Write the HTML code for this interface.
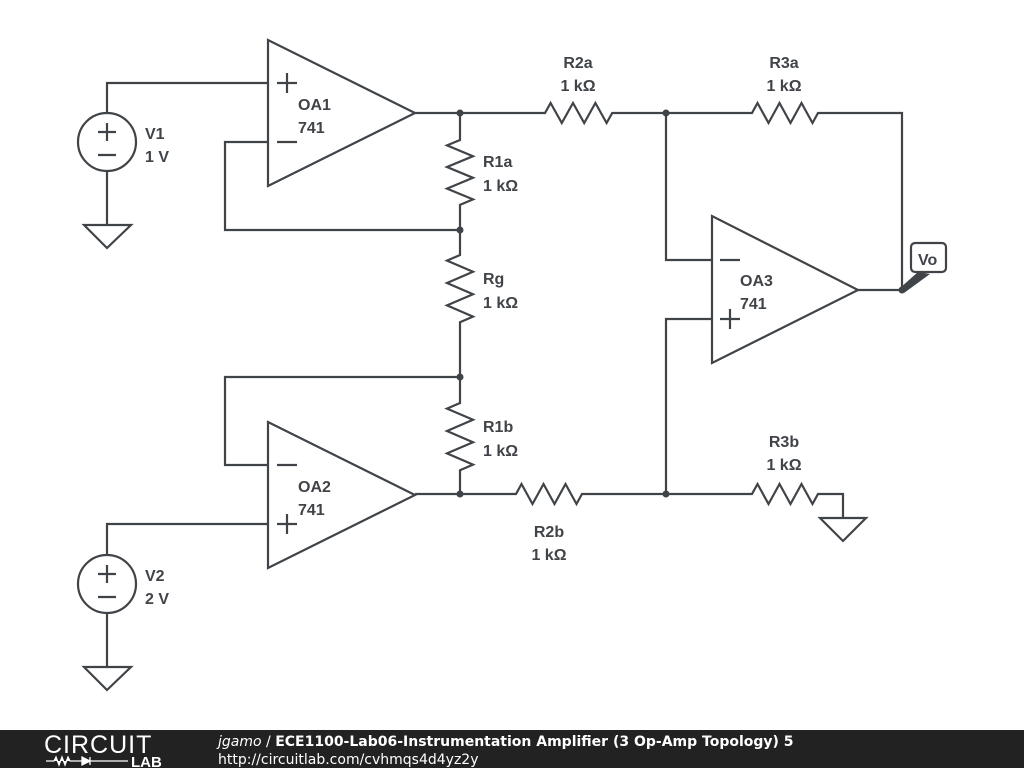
<!DOCTYPE html>
<html><head><meta charset="utf-8"><style>
body{margin:0;width:1024px;height:768px;overflow:hidden;background:#fff;font-family:"Liberation Sans","DejaVu Sans",sans-serif}
svg text{font-family:"Liberation Sans","DejaVu Sans",sans-serif;font-weight:bold;font-size:16px;fill:#404448}
svg text.ft{font-family:"DejaVu Sans",sans-serif}
</style></head><body>
<svg width="1024" height="768" viewBox="0 0 1024 768" xmlns="http://www.w3.org/2000/svg">
<g fill="none" stroke="#404448" stroke-width="2.2" stroke-linejoin="miter">
<polygon points="268,40 268,186 415,113"/>
<path d="M277,83h20M287,73v20M277,142h20"/>
<circle cx="107" cy="142" r="29"/>
<path d="M98,132h18M107,123v18M98,155h18"/>
<path d="M107,113V83H268M107,171V225"/>
<polygon points="84,225 131,225 107,248"/>
<path d="M268,142H225V230H460"/>
<path d="M415,113H545l5.6,-10 11.2,20 11.2,-20 11.2,20 11.2,-20 11.2,20 5.6,-10H752l5.5,-10 11,20 11,-20 11,20 11,-20 11,20 5.5,-10H902V290"/>
<path d="M460,113V140l-13,5.4 26,10.8 -26,10.8 26,10.8 -26,10.8 26,10.8 -13,5.4V255l-13,5.6 26,11.2 -26,11.2 26,11.2 -26,11.2 26,11.2 -13,5.6V403l-13,5.6 26,11.2 -26,11.2 26,11.2 -26,11.2 26,11.2 -13,5.6V494"/>
<polygon points="268,422 268,568 415,495"/>
<path d="M277,465h20M277,524h20M287,514v20"/>
<path d="M268,465H225V377H460"/>
<circle cx="107" cy="584" r="29"/>
<path d="M98,574h18M107,565v18M98,597h18"/>
<path d="M107,555V524H268M107,613V667"/>
<polygon points="84,667 131,667 107,690"/>
<path d="M415,494H516l5.5,-10 11,20 11,-20 11,20 11,-20 11,20 5.5,-10H752l5.5,-10 11,20 11,-20 11,20 11,-20 11,20 5.5,-10H843V518"/>
<polygon points="820,518 866,518 843,541"/>
<polygon points="712,216 712,363 858,290"/>
<path d="M720,260h20M720,319h20M730,309v20"/>
<path d="M666,113V260H712M712,319H666V494M858,290H902"/>
<rect x="911" y="243" width="35" height="29" rx="4" fill="#fff"/>
</g>
<polygon points="900,288 904,293 930,274 918,272" fill="#404448"/>
<g fill="#404448">
<circle cx="460" cy="113" r="3.5"/><circle cx="460" cy="230" r="3.5"/><circle cx="460" cy="377" r="3.5"/><circle cx="460" cy="494" r="3.5"/>
<circle cx="666" cy="113" r="3.5"/><circle cx="666" cy="494" r="3.5"/><circle cx="902" cy="290" r="3.5"/>
</g>
<text x="918" y="265">Vo</text>
<text x="298" y="110">OA1</text><text x="298" y="133">741</text>
<text x="298" y="492">OA2</text><text x="298" y="515">741</text>
<text x="740" y="286">OA3</text><text x="740" y="309">741</text>
<text x="145" y="139">V1</text><text x="145" y="162">1 V</text>
<text x="145" y="581">V2</text><text x="145" y="604">2 V</text>
<text x="578" y="68" text-anchor="middle">R2a</text><text x="578" y="91" text-anchor="middle">1 kΩ</text>
<text x="784" y="68" text-anchor="middle">R3a</text><text x="784" y="91" text-anchor="middle">1 kΩ</text>
<text x="483" y="167">R1a</text><text x="483" y="191">1 kΩ</text>
<text x="483" y="284">Rg</text><text x="483" y="308">1 kΩ</text>
<text x="483" y="432">R1b</text><text x="483" y="456">1 kΩ</text>
<text x="549" y="537" text-anchor="middle">R2b</text><text x="549" y="560" text-anchor="middle">1 kΩ</text>
<text x="784" y="447" text-anchor="middle">R3b</text><text x="784" y="470" text-anchor="middle">1 kΩ</text>
<rect x="0" y="730" width="1024" height="38" fill="#222"/>
<text x="44" y="753" style="font-weight:normal;font-size:25px;fill:#fff;letter-spacing:1px">CIRCUIT</text>
<path d="M46,761h8l2,-4 3,8 3,-8 3,8 3,-8 2,4h12M82,757v8l8,-4z M90,757v8M90,761h38" stroke="#fff" stroke-width="1.3" fill="#fff"/>
<text x="131" y="767" style="font-size:15px;fill:#fff">LAB</text>
<text class="ft" x="218" y="746" style="font-size:14px;fill:#fff"><tspan style="font-style:italic;font-weight:normal">jgamo</tspan><tspan style="font-weight:normal"> / </tspan>ECE1100-Lab06-Instrumentation Amplifier (3 Op-Amp Topology) 5</text>
<text class="ft" x="218" y="764" style="font-size:14px;fill:#fff;font-weight:normal">http://circuitlab.com/cvhmqs4d4yz2y</text>
</svg>
</body></html>
